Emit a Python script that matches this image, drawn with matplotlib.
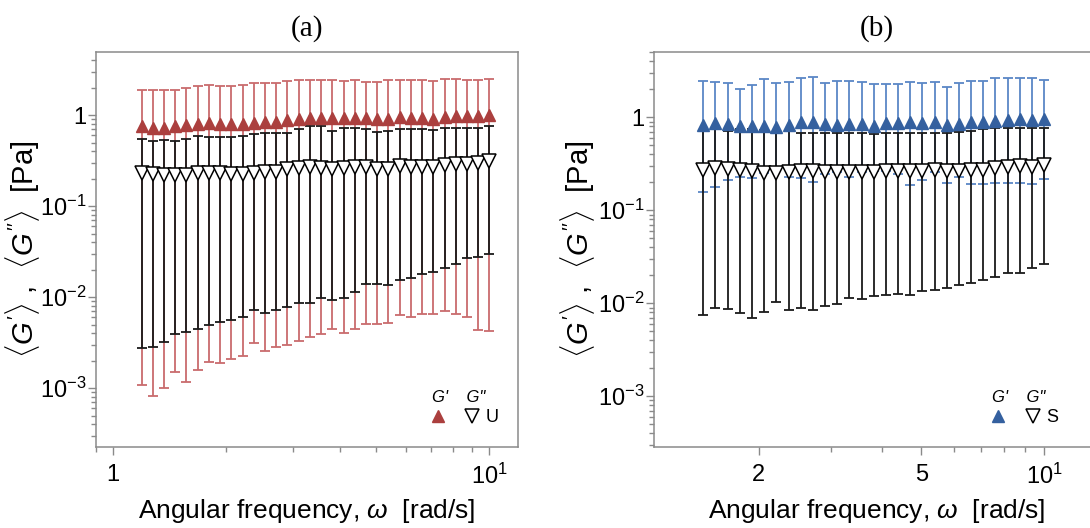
import matplotlib
matplotlib.use("Agg")
import matplotlib.pyplot as plt
from matplotlib.ticker import FixedLocator, FixedFormatter, LogLocator, NullFormatter
from matplotlib.legend_handler import HandlerTuple
from matplotlib.lines import Line2D

plt.rcParams['font.family'] = ['Liberation Sans', 'DejaVu Sans']
plt.rcParams['mathtext.fontset'] = 'custom'
plt.rcParams['mathtext.rm'] = 'Liberation Sans'
plt.rcParams['mathtext.it'] = 'Liberation Sans:italic'
plt.rcParams['mathtext.bf'] = 'Liberation Sans:bold'

# angular frequency [rad/s]
omega_a = [1.190, 1.275, 1.365, 1.462, 1.566, 1.678, 1.797, 1.925, 2.062, 2.208,
           2.365, 2.533, 2.713, 2.906, 3.113, 3.334, 3.571, 3.825, 4.097, 4.388,
           4.700, 5.034, 5.392, 5.776, 6.186, 6.626, 7.097, 7.602, 8.142, 8.721,
           9.341, 10.005]
omega_b = [1.462, 1.566, 1.678, 1.797, 1.925, 2.062, 2.208,
           2.365, 2.533, 2.713, 2.906, 3.113, 3.334, 3.571, 3.825, 4.097, 4.388,
           4.700, 5.034, 5.392, 5.776, 6.186, 6.626, 7.097, 7.602, 8.142, 8.721,
           9.341, 10.005]

# panel (a) - U
gp_a = [0.76, 0.73, 0.73, 0.76, 0.78, 0.80, 0.81, 0.79, 0.79, 0.79, 0.82, 0.85, 0.85, 0.88, 0.91, 0.94,
        0.92, 0.92, 0.92, 0.92, 0.92, 0.90, 0.90, 0.96, 0.94, 0.92, 0.91, 0.96, 0.98, 0.98, 0.98, 1.00]
gp_a_hi = [1.88, 1.91, 1.91, 1.91, 2.01, 2.10, 2.14, 2.10, 2.08, 2.12, 2.27, 2.28, 2.28, 2.36, 2.42, 2.46,
           2.42, 2.42, 2.38, 2.42, 2.32, 2.32, 2.42, 2.46, 2.42, 2.42, 2.38, 2.49, 2.49, 2.42, 2.42, 2.49]
gp_a_lo = [1.08e-3, 8.2e-4, 1.0e-3, 1.49e-3, 1.17e-3, 1.58e-3, 1.95e-3, 1.87e-3, 2.12e-3, 2.25e-3,
           3.15e-3, 2.57e-3, 2.84e-3, 3.02e-3, 3.3e-3, 3.66e-3, 3.98e-3, 4.46e-3, 4.06e-3, 4.53e-3,
           5.05e-3, 5.14e-3, 5.27e-3, 6.34e-3, 6.08e-3, 6.6e-3, 6.6e-3, 7.0e-3, 6.6e-3, 6.08e-3,
           4.4e-3, 4.3e-3]
gpp_a = [0.232, 0.225, 0.219, 0.219, 0.219, 0.229, 0.229, 0.229, 0.225, 0.225, 0.232, 0.238, 0.238,
         0.253, 0.264, 0.270, 0.264, 0.259, 0.264, 0.270, 0.266, 0.259, 0.259, 0.277, 0.270, 0.270,
         0.270, 0.282, 0.294, 0.294, 0.299, 0.312]
gpp_a_hi = [0.54, 0.52, 0.53, 0.52, 0.55, 0.59, 0.58, 0.58, 0.58, 0.59, 0.62, 0.63, 0.63, 0.64, 0.71, 0.76,
            0.75, 0.67, 0.73, 0.73, 0.71, 0.66, 0.67, 0.71, 0.71, 0.70, 0.68, 0.73, 0.73, 0.73, 0.73, 0.75]
gpp_a_lo = [2.77e-3, 2.85e-3, 3.23e-3, 3.92e-3, 4.16e-3, 4.46e-3, 4.92e-3, 5.36e-3, 5.58e-3, 6.08e-3,
            7.2e-3, 6.73e-3, 7.31e-3, 7.83e-3, 8.67e-3, 8.67e-3, 9.84e-3, 9.4e-3, 9.7e-3, 1.14e-2,
            1.38e-2, 1.38e-2, 1.36e-2, 1.56e-2, 1.64e-2, 1.79e-2, 1.90e-2, 2.07e-2, 2.34e-2, 2.70e-2,
            2.77e-2, 2.97e-2]

# panel (b) - S
gp_b = [0.83, 0.86, 0.84, 0.81, 0.81, 0.81, 0.79, 0.83, 0.90, 0.88, 0.85, 0.83, 0.84, 0.84, 0.81,
        0.86, 0.86, 0.88, 0.86, 0.88, 0.83, 0.85, 0.88, 0.88, 0.92, 0.94, 0.95, 0.94, 0.95]
gp_b_hi = [2.46, 2.42, 2.32, 2.02, 2.23, 2.58, 2.32, 2.38, 2.63, 2.69, 2.32, 2.46, 2.48, 2.42, 2.26,
           2.26, 2.26, 2.38, 2.32, 2.38, 2.10, 2.32, 2.48, 2.48, 2.67, 2.63, 2.63, 2.67, 2.52]
gp_b_lo = [0.159, 0.180, 0.212, 0.226, 0.224, 0.254, 0.267, 0.226, 0.221, 0.203, 0.246, 0.260, 0.230,
           0.256, 0.267, 0.265, 0.246, 0.187, 0.212, 0.260, 0.198, 0.230, 0.190, 0.190, 0.195, 0.198,
           0.195, 0.190, 0.215]
gpp_b = [0.272, 0.283, 0.276, 0.272, 0.265, 0.254, 0.254, 0.260, 0.265, 0.265, 0.260, 0.260, 0.256,
         0.260, 0.256, 0.265, 0.265, 0.265, 0.267, 0.272, 0.265, 0.267, 0.272, 0.272, 0.288, 0.295,
         0.302, 0.295, 0.307]
gpp_b_hi = [0.73, 0.76, 0.71, 0.74, 0.74, 0.73, 0.70, 0.71, 0.68, 0.68, 0.68, 0.67, 0.67, 0.67, 0.66,
            0.68, 0.67, 0.67, 0.67, 0.68, 0.67, 0.70, 0.71, 0.74, 0.76, 0.76, 0.76, 0.77, 0.76]
gpp_b_lo = [7.5e-3, 8.8e-3, 8.7e-3, 7.8e-3, 6.9e-3, 8.1e-3, 1.04e-2, 8.5e-3, 8.8e-3, 8.5e-3,
            9.4e-3, 9.8e-3, 1.15e-2, 1.11e-2, 1.2e-2, 1.23e-2, 1.26e-2, 1.23e-2, 1.36e-2, 1.39e-2,
            1.45e-2, 1.57e-2, 1.67e-2, 1.78e-2, 1.9e-2, 2.1e-2, 2.1e-2, 2.42e-2, 2.65e-2]

yticks = [1e-3, 1e-2, 1e-1, 1]
ylabels = [r'$10^{-3}$', r'$10^{-2}$', r'$10^{-1}$', '1']

red_mk = '#ab3f3e'
red_eb = '#c96b6d'
blue_mk = '#34609f'
blue_eb = '#5b87c6'
spine_c = '#8a8a8a'


def errs(v, lo, hi):
    return [[a - b for a, b in zip(v, lo)], [c - a for a, c in zip(v, hi)]]


def panel(ax, x, gp, gp_lo, gp_hi, gpp, gpp_lo, gpp_hi, mk, eb, name, title, xlim, ylim, xt, xtl, leg_x):
    ax.set_xscale('log')
    ax.set_yscale('log')
    ax.errorbar(x, gp, yerr=errs(gp, gp_lo, gp_hi), fmt='none', ecolor=eb,
                elinewidth=1.3, capsize=3.6, capthick=1.3, zorder=2)
    ax.errorbar(x, gpp, yerr=errs(gpp, gpp_lo, gpp_hi), fmt='none', ecolor='#1a1a1a',
                elinewidth=1.3, capsize=3.6, capthick=1.3, zorder=3)
    ax.plot(x, gp, ls='none', marker='^', ms=8.5, color=mk, mec=mk, zorder=4)
    ax.plot(x, gpp, ls='none', marker='v', ms=9.5, mfc='white', mec='black', mew=1.1, zorder=5)
    ax.set_xlim(*xlim)
    ax.set_ylim(*ylim)
    ax.xaxis.set_major_locator(FixedLocator(xt))
    ax.xaxis.set_major_formatter(FixedFormatter(xtl))
    ax.xaxis.set_minor_locator(LogLocator(base=10, subs=range(1, 10)))
    ax.xaxis.set_minor_formatter(NullFormatter())
    ax.yaxis.set_major_locator(FixedLocator(yticks))
    ax.yaxis.set_major_formatter(FixedFormatter(ylabels))
    ax.yaxis.set_minor_locator(LogLocator(base=10, subs=range(2, 10)))
    ax.yaxis.set_minor_formatter(NullFormatter())
    ax.tick_params(which='major', direction='out', length=6, width=1, color=spine_c,
                   labelsize=17, pad=1)
    ax.tick_params(which='minor', direction='out', length=3.5, width=1, color=spine_c)
    ax.tick_params(axis='x', which='major', pad=6)
    for s in ax.spines.values():
        s.set_color(spine_c)
        s.set_linewidth(1.1)
    ax.set_xlabel(r'Angular frequency, $\omega$  [rad/s]', fontsize=19, labelpad=6)
    ax.set_ylabel(r'$\langle G^{\prime}\rangle$ ,  $\langle G^{\prime\prime}\rangle$  [Pa]',
                  fontsize=21)
    ax.yaxis.set_label_coords(-0.128, 0.5)
    ax.set_title(title, fontsize=21, family='Liberation Serif', pad=12)
    h1 = Line2D([], [], ls='none', marker='^', ms=8.5, color=mk)
    h2 = Line2D([], [], ls='none', marker='v', ms=9.5, mfc='white', mec='black', mew=1.1)
    ax.legend(handles=[(h1, h2)], labels=[name],
              handler_map={tuple: HandlerTuple(ndivide=None, pad=1.2)},
              title="G'    G\"", title_fontproperties={'style': 'italic', 'size': 12},
              alignment='left', frameon=False, fontsize=13, handlelength=2.6,
              handletextpad=0.4, labelspacing=0.2, borderpad=0.2,
              loc='lower right', bbox_to_anchor=(leg_x, 0.022))


fig = plt.figure(figsize=(10.9, 5.28), dpi=100)
ax1 = fig.add_axes([0.088, 0.153, 0.387, 0.748])
ax2 = fig.add_axes([0.600, 0.153, 0.409, 0.748])

panel(ax1, omega_a, gp_a, gp_a_lo, gp_a_hi, gpp_a, gpp_a_lo, gpp_a_hi, red_mk, red_eb, 'U', '(a)',
      (0.90, 11.9), (2.25e-4, 4.9), [1, 10], ['1', r'$10^1$'], 0.985)
panel(ax2, omega_b, gp_b, gp_b_lo, gp_b_hi, gpp_b, gpp_b_lo, gpp_b_hi, blue_mk, blue_eb, 'S', '(b)',
      (1.107, 13.7), (2.83e-4, 5.0), [2, 5, 10], ['2', '5', r'$10^1$'], 0.935)

fig.savefig('out.png', dpi=100)
